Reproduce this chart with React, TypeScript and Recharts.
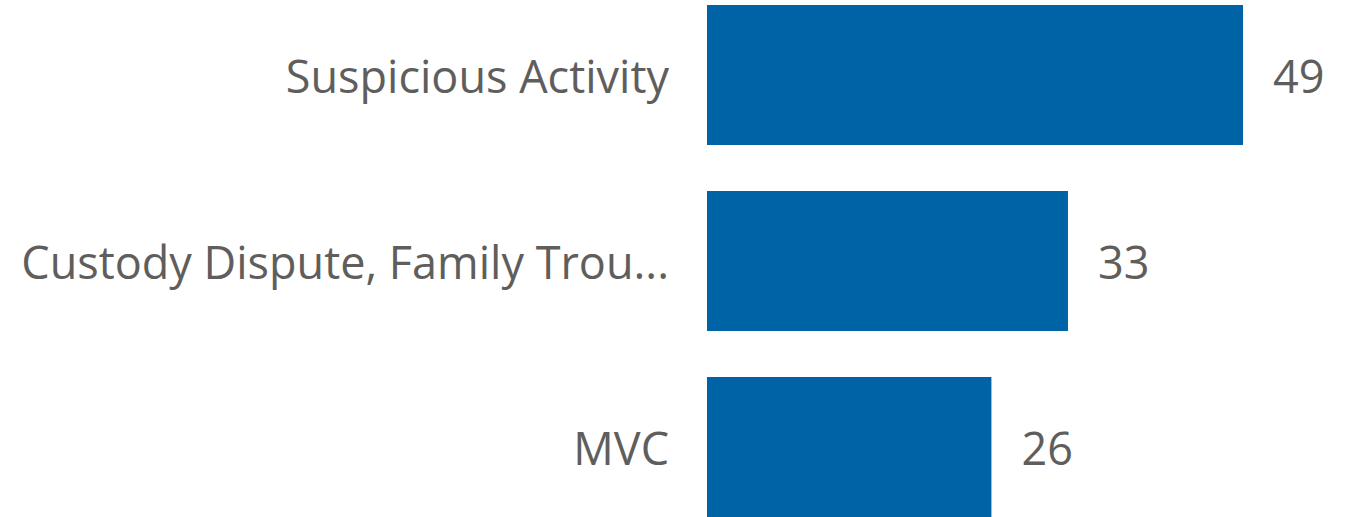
import React from 'react';
import { BarChart, Bar, XAxis, YAxis, LabelList } from 'recharts';

const categories = ['Suspicious Activity', 'Custody Dispute, Family Trou...', 'MVC'];
const counts = [49, 33, 26];

const data = categories.map((name, i) => ({ name, value: counts[i] }));

const FONT = '"Open Sans", "Segoe UI", sans-serif';
const TEXT = '#605E5C';
const FS = 45;

const CategoryTick = (props: any) => {
  const { x, y, payload } = props;
  return (
    <text x={x} y={y} dy={18} textAnchor="end" fill={TEXT} fontSize={FS} fontFamily={FONT}>
      {payload.value}
    </text>
  );
};

const ValueLabel = (props: any) => {
  const { x, y, width, height, value } = props;
  return (
    <text
      x={Number(x) + Number(width) + 30}
      y={Number(y) + Number(height) / 2 + 18}
      textAnchor="start"
      fill={TEXT}
      fontSize={FS}
      fontFamily={FONT}
    >
      {value}
    </text>
  );
};

export default function App() {
  return (
    <div style={{ position: 'absolute', left: 0, top: -18, width: 1363, height: 558 }}>
      <BarChart
        width={1363}
        height={558}
        data={data}
        layout="vertical"
        margin={{ top: 0, right: 120, bottom: 0, left: 0 }}
        barCategoryGap={23}
      >
        <XAxis type="number" hide domain={[0, 'dataMax']} />
        <YAxis
          type="category"
          dataKey="name"
          width={707}
          axisLine={false}
          tickLine={false}
          tickSize={0}
          tickMargin={38}
          tick={<CategoryTick />}
        />
        <Bar dataKey="value" fill="#0063A6" isAnimationActive={false}>
          <LabelList dataKey="value" content={<ValueLabel />} />
        </Bar>
      </BarChart>
    </div>
  );
}
